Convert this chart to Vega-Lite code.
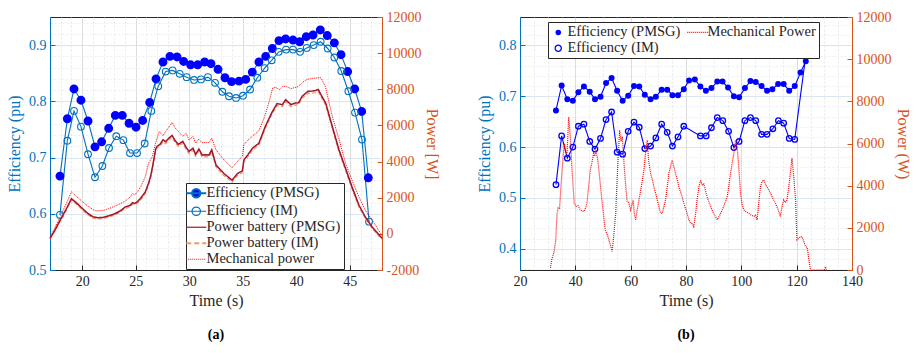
{
  "$schema": "https://vega.github.io/schema/vega-lite/v6.json",
  "padding": {"left": 6, "top": 9, "right": 5, "bottom": 5},
  "background": "white",
  "config": {
    "view": {"stroke": "#262626", "strokeWidth": 1},
    "font": "Liberation Serif",
    "axis": {
      "labelFont": "Liberation Serif", "labelFontSize": 14, "titleFont": "Liberation Serif", "titleFontSize": 16,
      "titleFontWeight": "normal", "tickSize": -5, "labelPadding": 9, "labelOverlap": false, "labelFlush": false,
      "gridWidth": 0.8, "domainWidth": 1
    },
    "title": {"font": "Liberation Serif", "fontSize": 14, "fontWeight": "bold", "color": "#000000"}
  },
  "datasets": {
    "effA": [
      {"s": "Efficiency (PMSG)", "t": 17.93, "v": 0.667}, {"s": "Efficiency (PMSG)", "t": 18.62, "v": 0.769}, {"s": "Efficiency (PMSG)", "t": 19.24, "v": 0.822}, {"s": "Efficiency (PMSG)", "t": 19.89, "v": 0.802},
      {"s": "Efficiency (PMSG)", "t": 20.55, "v": 0.765}, {"s": "Efficiency (PMSG)", "t": 21.2, "v": 0.719}, {"s": "Efficiency (PMSG)", "t": 21.82, "v": 0.728}, {"s": "Efficiency (PMSG)", "t": 22.48, "v": 0.752},
      {"s": "Efficiency (PMSG)", "t": 23.1, "v": 0.775}, {"s": "Efficiency (PMSG)", "t": 23.75, "v": 0.775}, {"s": "Efficiency (PMSG)", "t": 24.38, "v": 0.761}, {"s": "Efficiency (PMSG)", "t": 25.03, "v": 0.754},
      {"s": "Efficiency (PMSG)", "t": 25.65, "v": 0.766}, {"s": "Efficiency (PMSG)", "t": 26.31, "v": 0.798}, {"s": "Efficiency (PMSG)", "t": 26.9, "v": 0.84}, {"s": "Efficiency (PMSG)", "t": 27.55, "v": 0.87},
      {"s": "Efficiency (PMSG)", "t": 28.2, "v": 0.88}, {"s": "Efficiency (PMSG)", "t": 28.86, "v": 0.879}, {"s": "Efficiency (PMSG)", "t": 29.48, "v": 0.871}, {"s": "Efficiency (PMSG)", "t": 30.13, "v": 0.865},
      {"s": "Efficiency (PMSG)", "t": 30.79, "v": 0.865}, {"s": "Efficiency (PMSG)", "t": 31.44, "v": 0.87}, {"s": "Efficiency (PMSG)", "t": 32.03, "v": 0.867}, {"s": "Efficiency (PMSG)", "t": 32.69, "v": 0.857},
      {"s": "Efficiency (PMSG)", "t": 33.34, "v": 0.842}, {"s": "Efficiency (PMSG)", "t": 33.96, "v": 0.835}, {"s": "Efficiency (PMSG)", "t": 34.65, "v": 0.836}, {"s": "Efficiency (PMSG)", "t": 35.27, "v": 0.839},
      {"s": "Efficiency (PMSG)", "t": 35.89, "v": 0.852}, {"s": "Efficiency (PMSG)", "t": 36.51, "v": 0.87}, {"s": "Efficiency (PMSG)", "t": 37.14, "v": 0.88}, {"s": "Efficiency (PMSG)", "t": 37.76, "v": 0.894},
      {"s": "Efficiency (PMSG)", "t": 38.38, "v": 0.908}, {"s": "Efficiency (PMSG)", "t": 39.0, "v": 0.911}, {"s": "Efficiency (PMSG)", "t": 39.69, "v": 0.909}, {"s": "Efficiency (PMSG)", "t": 40.31, "v": 0.906},
      {"s": "Efficiency (PMSG)", "t": 40.93, "v": 0.915}, {"s": "Efficiency (PMSG)", "t": 41.56, "v": 0.918}, {"s": "Efficiency (PMSG)", "t": 42.24, "v": 0.927}, {"s": "Efficiency (PMSG)", "t": 42.89, "v": 0.917},
      {"s": "Efficiency (PMSG)", "t": 43.55, "v": 0.904}, {"s": "Efficiency (PMSG)", "t": 44.17, "v": 0.883}, {"s": "Efficiency (PMSG)", "t": 44.79, "v": 0.853}, {"s": "Efficiency (PMSG)", "t": 45.45, "v": 0.822},
      {"s": "Efficiency (PMSG)", "t": 46.1, "v": 0.782}, {"s": "Efficiency (PMSG)", "t": 46.72, "v": 0.664},
      {"s": "Efficiency (IM)", "t": 17.93, "v": 0.598}, {"s": "Efficiency (IM)", "t": 18.62, "v": 0.73}, {"s": "Efficiency (IM)", "t": 19.24, "v": 0.783}, {"s": "Efficiency (IM)", "t": 19.89, "v": 0.755},
      {"s": "Efficiency (IM)", "t": 20.55, "v": 0.706}, {"s": "Efficiency (IM)", "t": 21.2, "v": 0.665}, {"s": "Efficiency (IM)", "t": 21.89, "v": 0.685}, {"s": "Efficiency (IM)", "t": 22.51, "v": 0.717},
      {"s": "Efficiency (IM)", "t": 23.19, "v": 0.738}, {"s": "Efficiency (IM)", "t": 23.85, "v": 0.731}, {"s": "Efficiency (IM)", "t": 24.47, "v": 0.708}, {"s": "Efficiency (IM)", "t": 25.13, "v": 0.708},
      {"s": "Efficiency (IM)", "t": 25.84, "v": 0.725}, {"s": "Efficiency (IM)", "t": 26.46, "v": 0.783}, {"s": "Efficiency (IM)", "t": 27.11, "v": 0.827}, {"s": "Efficiency (IM)", "t": 27.8, "v": 0.853},
      {"s": "Efficiency (IM)", "t": 28.45, "v": 0.855}, {"s": "Efficiency (IM)", "t": 29.11, "v": 0.849}, {"s": "Efficiency (IM)", "t": 29.76, "v": 0.843}, {"s": "Efficiency (IM)", "t": 30.45, "v": 0.838},
      {"s": "Efficiency (IM)", "t": 31.1, "v": 0.839}, {"s": "Efficiency (IM)", "t": 31.75, "v": 0.843}, {"s": "Efficiency (IM)", "t": 32.41, "v": 0.833}, {"s": "Efficiency (IM)", "t": 33.09, "v": 0.817},
      {"s": "Efficiency (IM)", "t": 33.71, "v": 0.809}, {"s": "Efficiency (IM)", "t": 34.37, "v": 0.806}, {"s": "Efficiency (IM)", "t": 35.02, "v": 0.81}, {"s": "Efficiency (IM)", "t": 35.68, "v": 0.821},
      {"s": "Efficiency (IM)", "t": 36.36, "v": 0.842}, {"s": "Efficiency (IM)", "t": 37.04, "v": 0.859}, {"s": "Efficiency (IM)", "t": 37.7, "v": 0.873}, {"s": "Efficiency (IM)", "t": 38.35, "v": 0.888},
      {"s": "Efficiency (IM)", "t": 39.04, "v": 0.892}, {"s": "Efficiency (IM)", "t": 39.69, "v": 0.892}, {"s": "Efficiency (IM)", "t": 40.35, "v": 0.888}, {"s": "Efficiency (IM)", "t": 40.97, "v": 0.895},
      {"s": "Efficiency (IM)", "t": 41.62, "v": 0.9}, {"s": "Efficiency (IM)", "t": 42.27, "v": 0.906}, {"s": "Efficiency (IM)", "t": 42.93, "v": 0.894}, {"s": "Efficiency (IM)", "t": 43.55, "v": 0.878},
      {"s": "Efficiency (IM)", "t": 44.2, "v": 0.854}, {"s": "Efficiency (IM)", "t": 44.86, "v": 0.818}, {"s": "Efficiency (IM)", "t": 45.48, "v": 0.78}, {"s": "Efficiency (IM)", "t": 46.13, "v": 0.732},
      {"s": "Efficiency (IM)", "t": 46.79, "v": 0.586}
    ],
    "powA": [
      {"s": "Power battery (IM)", "t": 17.0, "v": -280}, {"s": "Power battery (IM)", "t": 17.5, "v": 200}, {"s": "Power battery (IM)", "t": 18.0, "v": 760}, {"s": "Power battery (IM)", "t": 18.5, "v": 1280},
      {"s": "Power battery (IM)", "t": 19.0, "v": 1870}, {"s": "Power battery (IM)", "t": 19.5, "v": 1620}, {"s": "Power battery (IM)", "t": 20.0, "v": 1340}, {"s": "Power battery (IM)", "t": 20.5, "v": 1070},
      {"s": "Power battery (IM)", "t": 21.0, "v": 870}, {"s": "Power battery (IM)", "t": 21.5, "v": 820}, {"s": "Power battery (IM)", "t": 22.0, "v": 850}, {"s": "Power battery (IM)", "t": 22.5, "v": 930},
      {"s": "Power battery (IM)", "t": 23.0, "v": 1030}, {"s": "Power battery (IM)", "t": 23.5, "v": 1180}, {"s": "Power battery (IM)", "t": 24.0, "v": 1400}, {"s": "Power battery (IM)", "t": 24.5, "v": 1500},
      {"s": "Power battery (IM)", "t": 24.7, "v": 1650}, {"s": "Power battery (IM)", "t": 24.9, "v": 1600}, {"s": "Power battery (IM)", "t": 25.2, "v": 1720}, {"s": "Power battery (IM)", "t": 25.5, "v": 1910},
      {"s": "Power battery (IM)", "t": 25.9, "v": 2230}, {"s": "Power battery (IM)", "t": 26.2, "v": 2700}, {"s": "Power battery (IM)", "t": 26.4, "v": 3100}, {"s": "Power battery (IM)", "t": 26.6, "v": 3700},
      {"s": "Power battery (IM)", "t": 26.87, "v": 4600}, {"s": "Power battery (IM)", "t": 27.0, "v": 4750}, {"s": "Power battery (IM)", "t": 27.27, "v": 4840}, {"s": "Power battery (IM)", "t": 27.55, "v": 5090},
      {"s": "Power battery (IM)", "t": 27.8, "v": 4990}, {"s": "Power battery (IM)", "t": 28.1, "v": 5190}, {"s": "Power battery (IM)", "t": 28.4, "v": 5340}, {"s": "Power battery (IM)", "t": 28.7, "v": 5040},
      {"s": "Power battery (IM)", "t": 28.98, "v": 4840}, {"s": "Power battery (IM)", "t": 29.4, "v": 5010}, {"s": "Power battery (IM)", "t": 29.7, "v": 4690}, {"s": "Power battery (IM)", "t": 29.98, "v": 4450},
      {"s": "Power battery (IM)", "t": 30.35, "v": 4630}, {"s": "Power battery (IM)", "t": 30.6, "v": 4290}, {"s": "Power battery (IM)", "t": 30.9, "v": 4590}, {"s": "Power battery (IM)", "t": 31.2, "v": 4260},
      {"s": "Power battery (IM)", "t": 31.5, "v": 4270}, {"s": "Power battery (IM)", "t": 31.85, "v": 4260}, {"s": "Power battery (IM)", "t": 32.1, "v": 4540}, {"s": "Power battery (IM)", "t": 32.5, "v": 3700},
      {"s": "Power battery (IM)", "t": 33.24, "v": 3230}, {"s": "Power battery (IM)", "t": 34.0, "v": 2860}, {"s": "Power battery (IM)", "t": 34.5, "v": 3230}, {"s": "Power battery (IM)", "t": 34.96, "v": 3380},
      {"s": "Power battery (IM)", "t": 35.1, "v": 3980}, {"s": "Power battery (IM)", "t": 35.5, "v": 4290}, {"s": "Power battery (IM)", "t": 35.9, "v": 4630}, {"s": "Power battery (IM)", "t": 36.5, "v": 4900},
      {"s": "Power battery (IM)", "t": 37.1, "v": 5830}, {"s": "Power battery (IM)", "t": 37.7, "v": 6580}, {"s": "Power battery (IM)", "t": 38.2, "v": 7100}, {"s": "Power battery (IM)", "t": 38.7, "v": 7040},
      {"s": "Power battery (IM)", "t": 39.0, "v": 7320}, {"s": "Power battery (IM)", "t": 39.5, "v": 7040}, {"s": "Power battery (IM)", "t": 39.9, "v": 7130}, {"s": "Power battery (IM)", "t": 40.2, "v": 7140},
      {"s": "Power battery (IM)", "t": 40.55, "v": 7510}, {"s": "Power battery (IM)", "t": 41.1, "v": 7780}, {"s": "Power battery (IM)", "t": 41.5, "v": 7790}, {"s": "Power battery (IM)", "t": 41.8, "v": 7820},
      {"s": "Power battery (IM)", "t": 42.05, "v": 7880}, {"s": "Power battery (IM)", "t": 42.3, "v": 7590}, {"s": "Power battery (IM)", "t": 42.74, "v": 7130}, {"s": "Power battery (IM)", "t": 43.36, "v": 5830},
      {"s": "Power battery (IM)", "t": 43.98, "v": 4540}, {"s": "Power battery (IM)", "t": 44.6, "v": 3510}, {"s": "Power battery (IM)", "t": 45.2, "v": 2490}, {"s": "Power battery (IM)", "t": 45.85, "v": 1480},
      {"s": "Power battery (IM)", "t": 46.45, "v": 840}, {"s": "Power battery (IM)", "t": 47.1, "v": 290}, {"s": "Power battery (IM)", "t": 47.9, "v": -250}, {"s": "Power battery (IM)", "t": 48.0, "v": -300},
      {"s": "Power battery (PMSG)", "t": 17.0, "v": -250}, {"s": "Power battery (PMSG)", "t": 17.5, "v": 250}, {"s": "Power battery (PMSG)", "t": 18.0, "v": 820}, {"s": "Power battery (PMSG)", "t": 18.5, "v": 1350},
      {"s": "Power battery (PMSG)", "t": 19.0, "v": 1950}, {"s": "Power battery (PMSG)", "t": 19.5, "v": 1700}, {"s": "Power battery (PMSG)", "t": 20.0, "v": 1420}, {"s": "Power battery (PMSG)", "t": 20.5, "v": 1150},
      {"s": "Power battery (PMSG)", "t": 21.0, "v": 950}, {"s": "Power battery (PMSG)", "t": 21.5, "v": 890}, {"s": "Power battery (PMSG)", "t": 22.0, "v": 920}, {"s": "Power battery (PMSG)", "t": 22.5, "v": 1000},
      {"s": "Power battery (PMSG)", "t": 23.0, "v": 1100}, {"s": "Power battery (PMSG)", "t": 23.5, "v": 1250}, {"s": "Power battery (PMSG)", "t": 24.0, "v": 1480}, {"s": "Power battery (PMSG)", "t": 24.5, "v": 1580},
      {"s": "Power battery (PMSG)", "t": 24.7, "v": 1730}, {"s": "Power battery (PMSG)", "t": 24.9, "v": 1680}, {"s": "Power battery (PMSG)", "t": 25.2, "v": 1800}, {"s": "Power battery (PMSG)", "t": 25.5, "v": 2000},
      {"s": "Power battery (PMSG)", "t": 25.9, "v": 2320}, {"s": "Power battery (PMSG)", "t": 26.2, "v": 2800}, {"s": "Power battery (PMSG)", "t": 26.4, "v": 3200}, {"s": "Power battery (PMSG)", "t": 26.6, "v": 3800},
      {"s": "Power battery (PMSG)", "t": 26.87, "v": 4700}, {"s": "Power battery (PMSG)", "t": 27.0, "v": 4850}, {"s": "Power battery (PMSG)", "t": 27.27, "v": 4950}, {"s": "Power battery (PMSG)", "t": 27.55, "v": 5200},
      {"s": "Power battery (PMSG)", "t": 27.8, "v": 5100}, {"s": "Power battery (PMSG)", "t": 28.1, "v": 5300}, {"s": "Power battery (PMSG)", "t": 28.4, "v": 5450}, {"s": "Power battery (PMSG)", "t": 28.7, "v": 5150},
      {"s": "Power battery (PMSG)", "t": 28.98, "v": 4950}, {"s": "Power battery (PMSG)", "t": 29.4, "v": 5120}, {"s": "Power battery (PMSG)", "t": 29.7, "v": 4800}, {"s": "Power battery (PMSG)", "t": 29.98, "v": 4560},
      {"s": "Power battery (PMSG)", "t": 30.35, "v": 4740}, {"s": "Power battery (PMSG)", "t": 30.6, "v": 4400}, {"s": "Power battery (PMSG)", "t": 30.9, "v": 4700}, {"s": "Power battery (PMSG)", "t": 31.2, "v": 4370},
      {"s": "Power battery (PMSG)", "t": 31.5, "v": 4380}, {"s": "Power battery (PMSG)", "t": 31.85, "v": 4370}, {"s": "Power battery (PMSG)", "t": 32.1, "v": 4650}, {"s": "Power battery (PMSG)", "t": 32.5, "v": 3810},
      {"s": "Power battery (PMSG)", "t": 33.24, "v": 3340}, {"s": "Power battery (PMSG)", "t": 34.0, "v": 2970}, {"s": "Power battery (PMSG)", "t": 34.5, "v": 3340}, {"s": "Power battery (PMSG)", "t": 34.96, "v": 3490},
      {"s": "Power battery (PMSG)", "t": 35.1, "v": 4090}, {"s": "Power battery (PMSG)", "t": 35.5, "v": 4400}, {"s": "Power battery (PMSG)", "t": 35.9, "v": 4740}, {"s": "Power battery (PMSG)", "t": 36.5, "v": 5010},
      {"s": "Power battery (PMSG)", "t": 37.1, "v": 5940}, {"s": "Power battery (PMSG)", "t": 37.7, "v": 6690}, {"s": "Power battery (PMSG)", "t": 38.2, "v": 7210}, {"s": "Power battery (PMSG)", "t": 38.7, "v": 7150},
      {"s": "Power battery (PMSG)", "t": 39.0, "v": 7430}, {"s": "Power battery (PMSG)", "t": 39.5, "v": 7150}, {"s": "Power battery (PMSG)", "t": 39.9, "v": 7240}, {"s": "Power battery (PMSG)", "t": 40.2, "v": 7250},
      {"s": "Power battery (PMSG)", "t": 40.55, "v": 7620}, {"s": "Power battery (PMSG)", "t": 41.1, "v": 7890}, {"s": "Power battery (PMSG)", "t": 41.5, "v": 7900}, {"s": "Power battery (PMSG)", "t": 41.8, "v": 7930},
      {"s": "Power battery (PMSG)", "t": 42.05, "v": 7990}, {"s": "Power battery (PMSG)", "t": 42.3, "v": 7700}, {"s": "Power battery (PMSG)", "t": 42.74, "v": 7240}, {"s": "Power battery (PMSG)", "t": 43.36, "v": 5940},
      {"s": "Power battery (PMSG)", "t": 43.98, "v": 4650}, {"s": "Power battery (PMSG)", "t": 44.6, "v": 3620}, {"s": "Power battery (PMSG)", "t": 45.2, "v": 2600}, {"s": "Power battery (PMSG)", "t": 45.85, "v": 1580},
      {"s": "Power battery (PMSG)", "t": 46.45, "v": 930}, {"s": "Power battery (PMSG)", "t": 47.1, "v": 370}, {"s": "Power battery (PMSG)", "t": 47.9, "v": -180}, {"s": "Power battery (PMSG)", "t": 48.0, "v": -250},
      {"s": "Mechanical power", "t": 17.0, "v": -200}, {"s": "Mechanical power", "t": 17.5, "v": 400}, {"s": "Mechanical power", "t": 18.0, "v": 1000}, {"s": "Mechanical power", "t": 18.5, "v": 1650},
      {"s": "Mechanical power", "t": 19.0, "v": 2320}, {"s": "Mechanical power", "t": 19.5, "v": 2050}, {"s": "Mechanical power", "t": 20.0, "v": 1800}, {"s": "Mechanical power", "t": 20.5, "v": 1550},
      {"s": "Mechanical power", "t": 21.0, "v": 1350}, {"s": "Mechanical power", "t": 21.3, "v": 1270}, {"s": "Mechanical power", "t": 22.0, "v": 1300}, {"s": "Mechanical power", "t": 22.5, "v": 1400},
      {"s": "Mechanical power", "t": 23.0, "v": 1520}, {"s": "Mechanical power", "t": 23.5, "v": 1650}, {"s": "Mechanical power", "t": 24.0, "v": 1800}, {"s": "Mechanical power", "t": 24.5, "v": 2050},
      {"s": "Mechanical power", "t": 24.7, "v": 2250}, {"s": "Mechanical power", "t": 24.9, "v": 2150}, {"s": "Mechanical power", "t": 25.2, "v": 2350}, {"s": "Mechanical power", "t": 25.5, "v": 2650},
      {"s": "Mechanical power", "t": 25.9, "v": 3160}, {"s": "Mechanical power", "t": 26.2, "v": 3900}, {"s": "Mechanical power", "t": 26.55, "v": 4270}, {"s": "Mechanical power", "t": 26.85, "v": 5010},
      {"s": "Mechanical power", "t": 27.2, "v": 5670}, {"s": "Mechanical power", "t": 27.55, "v": 5430}, {"s": "Mechanical power", "t": 27.8, "v": 5670}, {"s": "Mechanical power", "t": 28.1, "v": 5900},
      {"s": "Mechanical power", "t": 28.4, "v": 6170}, {"s": "Mechanical power", "t": 28.7, "v": 5850}, {"s": "Mechanical power", "t": 28.98, "v": 5670}, {"s": "Mechanical power", "t": 29.4, "v": 5390},
      {"s": "Mechanical power", "t": 29.7, "v": 5570}, {"s": "Mechanical power", "t": 29.98, "v": 5200}, {"s": "Mechanical power", "t": 30.35, "v": 5390}, {"s": "Mechanical power", "t": 30.6, "v": 5010},
      {"s": "Mechanical power", "t": 30.9, "v": 5250}, {"s": "Mechanical power", "t": 31.2, "v": 5050}, {"s": "Mechanical power", "t": 31.85, "v": 5050}, {"s": "Mechanical power", "t": 32.1, "v": 5290},
      {"s": "Mechanical power", "t": 32.5, "v": 4650}, {"s": "Mechanical power", "t": 33.24, "v": 4100}, {"s": "Mechanical power", "t": 34.0, "v": 3660}, {"s": "Mechanical power", "t": 34.5, "v": 4000},
      {"s": "Mechanical power", "t": 34.96, "v": 4300}, {"s": "Mechanical power", "t": 35.1, "v": 4930}, {"s": "Mechanical power", "t": 35.5, "v": 5200}, {"s": "Mechanical power", "t": 35.9, "v": 5400},
      {"s": "Mechanical power", "t": 36.5, "v": 5700}, {"s": "Mechanical power", "t": 36.8, "v": 6130}, {"s": "Mechanical power", "t": 37.1, "v": 6600}, {"s": "Mechanical power", "t": 37.5, "v": 7400},
      {"s": "Mechanical power", "t": 37.8, "v": 8080}, {"s": "Mechanical power", "t": 38.1, "v": 8100}, {"s": "Mechanical power", "t": 38.4, "v": 7980}, {"s": "Mechanical power", "t": 38.7, "v": 8150},
      {"s": "Mechanical power", "t": 39.0, "v": 8170}, {"s": "Mechanical power", "t": 39.5, "v": 8040}, {"s": "Mechanical power", "t": 39.9, "v": 8100}, {"s": "Mechanical power", "t": 40.2, "v": 8150},
      {"s": "Mechanical power", "t": 40.5, "v": 8350}, {"s": "Mechanical power", "t": 41.0, "v": 8550}, {"s": "Mechanical power", "t": 41.5, "v": 8600}, {"s": "Mechanical power", "t": 42.0, "v": 8640},
      {"s": "Mechanical power", "t": 42.3, "v": 8630}, {"s": "Mechanical power", "t": 42.7, "v": 8170}, {"s": "Mechanical power", "t": 43.36, "v": 6500}, {"s": "Mechanical power", "t": 44.0, "v": 5200},
      {"s": "Mechanical power", "t": 44.6, "v": 3900}, {"s": "Mechanical power", "t": 45.2, "v": 2980}, {"s": "Mechanical power", "t": 45.85, "v": 2040}, {"s": "Mechanical power", "t": 46.45, "v": 1300},
      {"s": "Mechanical power", "t": 47.1, "v": 750}, {"s": "Mechanical power", "t": 47.9, "v": 0}, {"s": "Mechanical power", "t": 48.0, "v": -100}
    ],
    "effB": [
      {"s": "Efficiency (PMSG)", "t": 33.0, "v": 0.672}, {"s": "Efficiency (PMSG)", "t": 35.05, "v": 0.721}, {"s": "Efficiency (PMSG)", "t": 37.1, "v": 0.694}, {"s": "Efficiency (PMSG)", "t": 39.1, "v": 0.691},
      {"s": "Efficiency (PMSG)", "t": 41.1, "v": 0.708}, {"s": "Efficiency (PMSG)", "t": 43.1, "v": 0.719}, {"s": "Efficiency (PMSG)", "t": 45.2, "v": 0.709}, {"s": "Efficiency (PMSG)", "t": 47.1, "v": 0.694},
      {"s": "Efficiency (PMSG)", "t": 49.1, "v": 0.699}, {"s": "Efficiency (PMSG)", "t": 51.1, "v": 0.726}, {"s": "Efficiency (PMSG)", "t": 53.1, "v": 0.736}, {"s": "Efficiency (PMSG)", "t": 55.1, "v": 0.711},
      {"s": "Efficiency (PMSG)", "t": 57.1, "v": 0.691}, {"s": "Efficiency (PMSG)", "t": 59.1, "v": 0.701}, {"s": "Efficiency (PMSG)", "t": 61.2, "v": 0.72}, {"s": "Efficiency (PMSG)", "t": 63.1, "v": 0.719},
      {"s": "Efficiency (PMSG)", "t": 65.1, "v": 0.703}, {"s": "Efficiency (PMSG)", "t": 67.2, "v": 0.694}, {"s": "Efficiency (PMSG)", "t": 69.1, "v": 0.699}, {"s": "Efficiency (PMSG)", "t": 71.2, "v": 0.713},
      {"s": "Efficiency (PMSG)", "t": 73.2, "v": 0.713}, {"s": "Efficiency (PMSG)", "t": 75.1, "v": 0.702}, {"s": "Efficiency (PMSG)", "t": 77.1, "v": 0.702}, {"s": "Efficiency (PMSG)", "t": 79.2, "v": 0.714},
      {"s": "Efficiency (PMSG)", "t": 81.1, "v": 0.731}, {"s": "Efficiency (PMSG)", "t": 83.2, "v": 0.733}, {"s": "Efficiency (PMSG)", "t": 85.2, "v": 0.719}, {"s": "Efficiency (PMSG)", "t": 87.2, "v": 0.711},
      {"s": "Efficiency (PMSG)", "t": 89.2, "v": 0.716}, {"s": "Efficiency (PMSG)", "t": 91.3, "v": 0.729}, {"s": "Efficiency (PMSG)", "t": 93.2, "v": 0.729}, {"s": "Efficiency (PMSG)", "t": 95.2, "v": 0.717},
      {"s": "Efficiency (PMSG)", "t": 97.3, "v": 0.7}, {"s": "Efficiency (PMSG)", "t": 99.2, "v": 0.698}, {"s": "Efficiency (PMSG)", "t": 101.3, "v": 0.716}, {"s": "Efficiency (PMSG)", "t": 103.3, "v": 0.73},
      {"s": "Efficiency (PMSG)", "t": 105.2, "v": 0.728}, {"s": "Efficiency (PMSG)", "t": 107.3, "v": 0.72}, {"s": "Efficiency (PMSG)", "t": 109.3, "v": 0.711}, {"s": "Efficiency (PMSG)", "t": 111.2, "v": 0.714},
      {"s": "Efficiency (PMSG)", "t": 113.3, "v": 0.724}, {"s": "Efficiency (PMSG)", "t": 115.3, "v": 0.724}, {"s": "Efficiency (PMSG)", "t": 117.3, "v": 0.711}, {"s": "Efficiency (PMSG)", "t": 119.3, "v": 0.72},
      {"s": "Efficiency (PMSG)", "t": 121.4, "v": 0.747}, {"s": "Efficiency (PMSG)", "t": 123.3, "v": 0.769},
      {"s": "Efficiency (IM)", "t": 33.0, "v": 0.526}, {"s": "Efficiency (IM)", "t": 35.05, "v": 0.622}, {"s": "Efficiency (IM)", "t": 37.1, "v": 0.578}, {"s": "Efficiency (IM)", "t": 39.1, "v": 0.6},
      {"s": "Efficiency (IM)", "t": 41.1, "v": 0.641}, {"s": "Efficiency (IM)", "t": 43.1, "v": 0.645}, {"s": "Efficiency (IM)", "t": 45.2, "v": 0.611}, {"s": "Efficiency (IM)", "t": 47.1, "v": 0.596},
      {"s": "Efficiency (IM)", "t": 49.1, "v": 0.617}, {"s": "Efficiency (IM)", "t": 51.1, "v": 0.654}, {"s": "Efficiency (IM)", "t": 53.1, "v": 0.669}, {"s": "Efficiency (IM)", "t": 55.1, "v": 0.59},
      {"s": "Efficiency (IM)", "t": 57.1, "v": 0.586}, {"s": "Efficiency (IM)", "t": 59.1, "v": 0.631}, {"s": "Efficiency (IM)", "t": 61.2, "v": 0.649}, {"s": "Efficiency (IM)", "t": 63.1, "v": 0.639},
      {"s": "Efficiency (IM)", "t": 65.1, "v": 0.597}, {"s": "Efficiency (IM)", "t": 67.2, "v": 0.602}, {"s": "Efficiency (IM)", "t": 69.1, "v": 0.618}, {"s": "Efficiency (IM)", "t": 71.2, "v": 0.645},
      {"s": "Efficiency (IM)", "t": 73.2, "v": 0.629}, {"s": "Efficiency (IM)", "t": 75.1, "v": 0.602}, {"s": "Efficiency (IM)", "t": 77.1, "v": 0.62}, {"s": "Efficiency (IM)", "t": 79.2, "v": 0.641},
      {"s": "Efficiency (IM)", "t": 85.2, "v": 0.622}, {"s": "Efficiency (IM)", "t": 87.3, "v": 0.622}, {"s": "Efficiency (IM)", "t": 89.2, "v": 0.638}, {"s": "Efficiency (IM)", "t": 91.3, "v": 0.658},
      {"s": "Efficiency (IM)", "t": 93.3, "v": 0.652}, {"s": "Efficiency (IM)", "t": 95.4, "v": 0.631}, {"s": "Efficiency (IM)", "t": 97.3, "v": 0.599}, {"s": "Efficiency (IM)", "t": 99.2, "v": 0.611},
      {"s": "Efficiency (IM)", "t": 101.3, "v": 0.652}, {"s": "Efficiency (IM)", "t": 103.3, "v": 0.658}, {"s": "Efficiency (IM)", "t": 105.2, "v": 0.652}, {"s": "Efficiency (IM)", "t": 107.3, "v": 0.625},
      {"s": "Efficiency (IM)", "t": 109.3, "v": 0.625}, {"s": "Efficiency (IM)", "t": 111.4, "v": 0.636}, {"s": "Efficiency (IM)", "t": 113.4, "v": 0.652}, {"s": "Efficiency (IM)", "t": 115.3, "v": 0.647},
      {"s": "Efficiency (IM)", "t": 117.3, "v": 0.617}, {"s": "Efficiency (IM)", "t": 119.3, "v": 0.615}, {"s": "Efficiency (IM)", "t": 123.4, "v": 0.785}
    ],
    "powB": [
      {"s": "Mechanical Power", "t": 31.0, "v": 100}, {"s": "Mechanical Power", "t": 31.5, "v": 500}, {"s": "Mechanical Power", "t": 32.2, "v": 800}, {"s": "Mechanical Power", "t": 32.9, "v": 1370},
      {"s": "Mechanical Power", "t": 33.4, "v": 2700}, {"s": "Mechanical Power", "t": 33.8, "v": 2950}, {"s": "Mechanical Power", "t": 34.3, "v": 2930}, {"s": "Mechanical Power", "t": 35.2, "v": 4740},
      {"s": "Mechanical Power", "t": 36.0, "v": 6000}, {"s": "Mechanical Power", "t": 36.5, "v": 5600}, {"s": "Mechanical Power", "t": 37.0, "v": 5530}, {"s": "Mechanical Power", "t": 37.6, "v": 7260},
      {"s": "Mechanical Power", "t": 38.2, "v": 6300}, {"s": "Mechanical Power", "t": 38.8, "v": 4740}, {"s": "Mechanical Power", "t": 39.6, "v": 3170}, {"s": "Mechanical Power", "t": 40.3, "v": 3010},
      {"s": "Mechanical Power", "t": 41.0, "v": 3050}, {"s": "Mechanical Power", "t": 41.8, "v": 2850}, {"s": "Mechanical Power", "t": 42.5, "v": 2800}, {"s": "Mechanical Power", "t": 43.0, "v": 2770},
      {"s": "Mechanical Power", "t": 43.6, "v": 2900}, {"s": "Mechanical Power", "t": 44.2, "v": 3170}, {"s": "Mechanical Power", "t": 45.4, "v": 4740}, {"s": "Mechanical Power", "t": 46.0, "v": 5100},
      {"s": "Mechanical Power", "t": 46.6, "v": 5530}, {"s": "Mechanical Power", "t": 47.0, "v": 5400}, {"s": "Mechanical Power", "t": 47.4, "v": 5680}, {"s": "Mechanical Power", "t": 48.0, "v": 5300},
      {"s": "Mechanical Power", "t": 48.4, "v": 4900}, {"s": "Mechanical Power", "t": 49.0, "v": 4100}, {"s": "Mechanical Power", "t": 49.6, "v": 3320}, {"s": "Mechanical Power", "t": 50.2, "v": 2600},
      {"s": "Mechanical Power", "t": 50.8, "v": 1900}, {"s": "Mechanical Power", "t": 51.5, "v": 1700}, {"s": "Mechanical Power", "t": 52.2, "v": 1400}, {"s": "Mechanical Power", "t": 52.8, "v": 1120},
      {"s": "Mechanical Power", "t": 53.3, "v": 880}, {"s": "Mechanical Power", "t": 53.8, "v": 1500}, {"s": "Mechanical Power", "t": 54.6, "v": 2690}, {"s": "Mechanical Power", "t": 55.0, "v": 4000},
      {"s": "Mechanical Power", "t": 55.5, "v": 5370}, {"s": "Mechanical Power", "t": 56.0, "v": 6630}, {"s": "Mechanical Power", "t": 56.5, "v": 6100}, {"s": "Mechanical Power", "t": 57.0, "v": 6320},
      {"s": "Mechanical Power", "t": 57.6, "v": 5050}, {"s": "Mechanical Power", "t": 58.2, "v": 4000}, {"s": "Mechanical Power", "t": 58.7, "v": 3260}, {"s": "Mechanical Power", "t": 59.3, "v": 3200},
      {"s": "Mechanical Power", "t": 60.0, "v": 2850}, {"s": "Mechanical Power", "t": 60.5, "v": 3100}, {"s": "Mechanical Power", "t": 60.9, "v": 3320}, {"s": "Mechanical Power", "t": 61.3, "v": 2700},
      {"s": "Mechanical Power", "t": 61.8, "v": 2380}, {"s": "Mechanical Power", "t": 62.4, "v": 2900}, {"s": "Mechanical Power", "t": 63.0, "v": 3320}, {"s": "Mechanical Power", "t": 63.9, "v": 4000},
      {"s": "Mechanical Power", "t": 64.8, "v": 4740}, {"s": "Mechanical Power", "t": 65.4, "v": 5600}, {"s": "Mechanical Power", "t": 66.0, "v": 6160}, {"s": "Mechanical Power", "t": 66.5, "v": 5200},
      {"s": "Mechanical Power", "t": 67.2, "v": 4580}, {"s": "Mechanical Power", "t": 67.8, "v": 4300}, {"s": "Mechanical Power", "t": 68.4, "v": 3950}, {"s": "Mechanical Power", "t": 69.3, "v": 3500},
      {"s": "Mechanical Power", "t": 70.2, "v": 3010}, {"s": "Mechanical Power", "t": 70.8, "v": 2700}, {"s": "Mechanical Power", "t": 71.4, "v": 2690}, {"s": "Mechanical Power", "t": 72.0, "v": 3000},
      {"s": "Mechanical Power", "t": 72.6, "v": 3320}, {"s": "Mechanical Power", "t": 73.2, "v": 3900}, {"s": "Mechanical Power", "t": 73.8, "v": 4580}, {"s": "Mechanical Power", "t": 74.4, "v": 4900},
      {"s": "Mechanical Power", "t": 75.0, "v": 5210}, {"s": "Mechanical Power", "t": 75.6, "v": 4900}, {"s": "Mechanical Power", "t": 76.2, "v": 4580}, {"s": "Mechanical Power", "t": 76.8, "v": 4300},
      {"s": "Mechanical Power", "t": 77.4, "v": 3950}, {"s": "Mechanical Power", "t": 78.3, "v": 3600}, {"s": "Mechanical Power", "t": 79.2, "v": 3170}, {"s": "Mechanical Power", "t": 80.4, "v": 2690},
      {"s": "Mechanical Power", "t": 81.0, "v": 2400}, {"s": "Mechanical Power", "t": 81.6, "v": 2220}, {"s": "Mechanical Power", "t": 82.2, "v": 2200}, {"s": "Mechanical Power", "t": 82.8, "v": 2060},
      {"s": "Mechanical Power", "t": 83.4, "v": 2600}, {"s": "Mechanical Power", "t": 84.0, "v": 3320}, {"s": "Mechanical Power", "t": 84.6, "v": 3900}, {"s": "Mechanical Power", "t": 85.3, "v": 4270},
      {"s": "Mechanical Power", "t": 85.9, "v": 4000}, {"s": "Mechanical Power", "t": 86.4, "v": 4110}, {"s": "Mechanical Power", "t": 87.0, "v": 3800}, {"s": "Mechanical Power", "t": 87.6, "v": 3480},
      {"s": "Mechanical Power", "t": 88.5, "v": 3150}, {"s": "Mechanical Power", "t": 89.4, "v": 2850}, {"s": "Mechanical Power", "t": 90.3, "v": 2600}, {"s": "Mechanical Power", "t": 91.3, "v": 2380},
      {"s": "Mechanical Power", "t": 92.2, "v": 2600}, {"s": "Mechanical Power", "t": 93.1, "v": 2850}, {"s": "Mechanical Power", "t": 94.0, "v": 3150}, {"s": "Mechanical Power", "t": 94.9, "v": 3480},
      {"s": "Mechanical Power", "t": 95.5, "v": 4000}, {"s": "Mechanical Power", "t": 96.1, "v": 4580}, {"s": "Mechanical Power", "t": 96.7, "v": 5100}, {"s": "Mechanical Power", "t": 97.3, "v": 5530},
      {"s": "Mechanical Power", "t": 97.9, "v": 6160}, {"s": "Mechanical Power", "t": 98.5, "v": 5840}, {"s": "Mechanical Power", "t": 99.1, "v": 4800}, {"s": "Mechanical Power", "t": 99.7, "v": 3640},
      {"s": "Mechanical Power", "t": 100.3, "v": 3100}, {"s": "Mechanical Power", "t": 100.9, "v": 2850}, {"s": "Mechanical Power", "t": 101.8, "v": 2750}, {"s": "Mechanical Power", "t": 102.7, "v": 2690},
      {"s": "Mechanical Power", "t": 103.6, "v": 2600}, {"s": "Mechanical Power", "t": 104.5, "v": 2540}, {"s": "Mechanical Power", "t": 105.1, "v": 2600}, {"s": "Mechanical Power", "t": 105.7, "v": 2380},
      {"s": "Mechanical Power", "t": 106.3, "v": 3200}, {"s": "Mechanical Power", "t": 106.9, "v": 3950}, {"s": "Mechanical Power", "t": 107.5, "v": 4200}, {"s": "Mechanical Power", "t": 108.1, "v": 4270},
      {"s": "Mechanical Power", "t": 109.0, "v": 4000}, {"s": "Mechanical Power", "t": 109.9, "v": 3800}, {"s": "Mechanical Power", "t": 110.5, "v": 3640}, {"s": "Mechanical Power", "t": 111.4, "v": 3400},
      {"s": "Mechanical Power", "t": 112.3, "v": 3170}, {"s": "Mechanical Power", "t": 113.2, "v": 2900}, {"s": "Mechanical Power", "t": 114.1, "v": 2540}, {"s": "Mechanical Power", "t": 114.7, "v": 3000},
      {"s": "Mechanical Power", "t": 115.3, "v": 3320}, {"s": "Mechanical Power", "t": 115.9, "v": 3200}, {"s": "Mechanical Power", "t": 116.5, "v": 3320}, {"s": "Mechanical Power", "t": 117.4, "v": 4200},
      {"s": "Mechanical Power", "t": 118.3, "v": 5300}, {"s": "Mechanical Power", "t": 118.9, "v": 4500}, {"s": "Mechanical Power", "t": 119.6, "v": 3320}, {"s": "Mechanical Power", "t": 120.1, "v": 1430},
      {"s": "Mechanical Power", "t": 120.8, "v": 1500}, {"s": "Mechanical Power", "t": 121.4, "v": 1590}, {"s": "Mechanical Power", "t": 122.0, "v": 1560}, {"s": "Mechanical Power", "t": 122.6, "v": 1350},
      {"s": "Mechanical Power", "t": 123.2, "v": 1120}, {"s": "Mechanical Power", "t": 123.8, "v": 1060}, {"s": "Mechanical Power", "t": 124.4, "v": 500}, {"s": "Mechanical Power", "t": 125.0, "v": 0},
      {"s": "Mechanical Power", "t": 130.0, "v": 0}, {"s": "Mechanical Power", "t": 130.4, "v": 150}, {"s": "Mechanical Power", "t": 130.8, "v": 0}, {"s": "Mechanical Power", "t": 131.2, "v": 0}
    ]
  },
  "bounds": "flush",
  "spacing": 138,
  "resolve": {"scale": {"color": "independent"}, "legend": {"color": "independent"}},
  "hconcat": [
    {
      "width": 332, "height": 253,
      "title": {"text": "(a)", "orient": "bottom", "anchor": "middle", "frame": "group", "offset": 20},
      "encoding": {
        "x": {"field": "t", "type": "quantitative", "scale": {"domain": [17, 48], "nice": false, "zero": false},
          "axis": {"title": "Time (s)", "titleColor": "#262626", "titlePadding": 4,
            "values": [17,18,19,20,21,22,23,24,25,26,27,28,29,30,31,32,33,34,35,36,37,38,39,40,41,42,43,44,45,46,47,48],
            "labelExpr": "datum.value % 5 === 0 ? datum.label : ''", "format": "d", "labelColor": "#262626",
            "domainColor": "#262626", "tickColor": "#262626",
            "tickOpacity": {"condition": {"test": "datum.value % 5 === 0", "value": 1}, "value": 0},
            "grid": true,
            "gridColor": {"condition": {"test": "datum.value % 5 === 0", "value": "#d4d4d4"}, "value": "#e2e2e2"},
            "gridDash": {"condition": {"test": "datum.value % 5 === 0", "value": []}, "value": [2, 2]}}},
        "color": {"field": "s", "type": "nominal",
          "scale": {"domain": ["Efficiency (PMSG)", "Efficiency (IM)", "Power battery (PMSG)", "Power battery (IM)", "Mechanical power"],
            "range": ["#0072BD", "#0072BD", "#A2142F", "#EE9A6A", "#FF0000"]},
          "legend": {"title": null, "orient": "none", "legendX": 136, "legendY": 166, "fillColor": "white", "strokeColor": "#262626",
            "padding": 3, "labelFont": "Liberation Serif", "labelFontSize": 14.5, "labelColor": "#262626", "labelLimit": 300,
            "symbolSize": 400, "labelOffset": 3, "rowPadding": 1,
            "encode": {"symbols": {"update": {
              "shape": {"signal": "datum.value == 'Efficiency (PMSG)' || datum.value == 'Efficiency (IM)' ? 'M-1,0L1,0M-0.42,0A0.42,0.42,0,1,0,0.42,0A0.42,0.42,0,1,0,-0.42,0Z' : 'M-1,0L1,0'"},
              "fill": {"signal": "datum.value == 'Efficiency (PMSG)' ? '#0000FF' : 'transparent'"},
              "stroke": {"signal": "datum.value == 'Efficiency (PMSG)' ? '#4DA3E0' : datum.value == 'Efficiency (IM)' ? '#0072BD' : datum.value == 'Power battery (PMSG)' ? '#A2142F' : datum.value == 'Power battery (IM)' ? '#EE9A6A' : '#FF0000'"},
              "strokeDash": {"signal": "datum.value == 'Power battery (IM)' ? [5, 3] : datum.value == 'Mechanical power' ? [1, 1] : []"},
              "strokeWidth": {"signal": "datum.value == 'Efficiency (PMSG)' ? 2 : datum.value == 'Power battery (IM)' ? 2 : 1.2"},
              "opacity": {"value": 1}}}}}}
      },
      "layer": [
        {
          "data": {"name": "effA"},
          "encoding": {"y": {"field": "v", "type": "quantitative", "scale": {"domain": [0.5, 0.95], "nice": false, "zero": false},
            "axis": {"title": "Efficiency (pu)", "titleColor": "#0072BD", "titlePadding": 6,
              "values": [0.5,0.52,0.54,0.56,0.58,0.6,0.62,0.64,0.66,0.68,0.7,0.72,0.74,0.76,0.78,0.8,0.82,0.84,0.86,0.88,0.9,0.92,0.94],
              "labelExpr": "abs(datum.value*10 - round(datum.value*10)) < 0.001 ? format(datum.value, '.1f') : ''",
              "labelColor": "#0072BD", "domainColor": "#0072BD", "tickColor": "#0072BD",
              "tickOpacity": {"condition": {"test": "abs(datum.value*10 - round(datum.value*10)) < 0.001", "value": 1}, "value": 0},
              "grid": true,
              "gridColor": {"condition": {"test": "abs(datum.value*10 - round(datum.value*10)) < 0.001", "value": "#cfe0ee"}, "value": "#e3ebf2"},
              "gridDash": {"condition": {"test": "abs(datum.value*10 - round(datum.value*10)) < 0.001", "value": []}, "value": [2, 2]}}}},
          "layer": [
            {"mark": {"type": "line", "strokeWidth": 1.1}},
            {"transform": [{"filter": "datum.s === 'Efficiency (PMSG)'"}],
              "mark": {"type": "point", "filled": true, "size": 48, "opacity": 1},
              "encoding": {"fill": {"value": "#0000FF"}, "stroke": {"value": "#0000FF"}}},
            {"transform": [{"filter": "datum.s === 'Efficiency (IM)'"}],
              "mark": {"type": "point", "filled": false, "size": 45, "opacity": 1, "strokeWidth": 1.1},
              "encoding": {"fill": {"value": "transparent"}, "stroke": {"value": "#0072BD"}}}
          ]
        },
        {
          "data": {"name": "powA"},
          "encoding": {"y": {"field": "v", "type": "quantitative", "scale": {"domain": [-2000, 12000], "nice": false, "zero": false},
            "axis": {"orient": "right", "title": "Power [W]", "titleColor": "#D95319", "titlePadding": 2,
              "values": [-2000, 0, 2000, 4000, 6000, 8000, 10000, 12000], "labelExpr": "datum.value + ''",
              "labelColor": "#D95319", "domainColor": "#D95319", "tickColor": "#D95319", "grid": false}}},
          "layer": [
            {"transform": [{"filter": "datum.s === 'Power battery (IM)'"}], "mark": {"type": "line", "strokeWidth": 1.3, "strokeDash": [4, 2]}},
            {"transform": [{"filter": "datum.s === 'Power battery (PMSG)'"}], "mark": {"type": "line", "strokeWidth": 1.5}},
            {"transform": [{"filter": "datum.s === 'Mechanical power'"}], "mark": {"type": "line", "strokeWidth": 1, "strokeDash": [1, 1]}}
          ]
        }
      ],
      "resolve": {"scale": {"y": "independent"}}
    },
    {
      "width": 332, "height": 253,
      "title": {"text": "(b)", "orient": "bottom", "anchor": "middle", "frame": "group", "offset": 20},
      "encoding": {
        "x": {"field": "t", "type": "quantitative", "scale": {"domain": [20, 140], "nice": false, "zero": false},
          "axis": {"title": "Time (s)", "titleColor": "#262626", "titlePadding": 4,
            "values": [20,25,30,35,40,45,50,55,60,65,70,75,80,85,90,95,100,105,110,115,120,125,130,135,140],
            "labelExpr": "datum.value % 20 === 0 ? datum.label : ''", "format": "d", "labelColor": "#262626",
            "domainColor": "#262626", "tickColor": "#262626",
            "tickOpacity": {"condition": {"test": "datum.value % 20 === 0", "value": 1}, "value": 0},
            "grid": true,
            "gridColor": {"condition": {"test": "datum.value % 20 === 0", "value": "#d4d4d4"}, "value": "#e2e2e2"},
            "gridDash": {"condition": {"test": "datum.value % 20 === 0", "value": []}, "value": [2, 2]}}},
        "color": {"field": "s", "type": "nominal",
          "scale": {"domain": ["Efficiency (PMSG)", "Efficiency (IM)", "Mechanical Power"], "range": ["#0000FF", "#0000FF", "#FF0000"]},
          "legend": {"title": null, "orient": "none", "legendX": 28, "legendY": 5, "columns": 2, "columnPadding": 4,
            "fillColor": "white", "strokeColor": "#262626", "padding": 3,
            "labelFont": "Liberation Serif", "labelFontSize": 14.5, "labelColor": "#262626", "labelLimit": 300,
            "symbolSize": 484, "labelOffset": 2, "rowPadding": 1,
            "encode": {"symbols": {"update": {
              "shape": {"signal": "datum.value == 'Efficiency (PMSG)' ? 'M-0.2,0A0.2,0.2,0,1,0,0.2,0A0.2,0.2,0,1,0,-0.2,0Z' : datum.value == 'Efficiency (IM)' ? 'M-0.28,0A0.28,0.28,0,1,0,0.28,0A0.28,0.28,0,1,0,-0.28,0Z' : 'M-1,0L1,0'"},
              "fill": {"signal": "datum.value == 'Efficiency (PMSG)' ? '#0000FF' : 'transparent'"},
              "stroke": {"signal": "datum.value == 'Mechanical Power' ? '#FF0000' : '#0000FF'"},
              "strokeDash": {"signal": "datum.value == 'Mechanical Power' ? [1, 1] : []"},
              "strokeWidth": {"signal": "datum.value == 'Efficiency (IM)' ? 1.3 : 1.1"},
              "opacity": {"value": 1}}}}}}
      },
      "layer": [
        {
          "data": {"name": "effB"},
          "encoding": {"y": {"field": "v", "type": "quantitative", "scale": {"domain": [0.358, 0.856], "nice": false, "zero": false},
            "axis": {"title": "Efficiency (pu)", "titleColor": "#0072BD", "titlePadding": 6,
              "values": [0.36,0.38,0.4,0.42,0.44,0.46,0.48,0.5,0.52,0.54,0.56,0.58,0.6,0.62,0.64,0.66,0.68,0.7,0.72,0.74,0.76,0.78,0.8,0.82,0.84],
              "labelExpr": "abs(datum.value*10 - round(datum.value*10)) < 0.001 ? format(datum.value, '.1f') : ''",
              "labelColor": "#0072BD", "domainColor": "#0072BD", "tickColor": "#0072BD",
              "tickOpacity": {"condition": {"test": "abs(datum.value*10 - round(datum.value*10)) < 0.001", "value": 1}, "value": 0},
              "grid": true,
              "gridColor": {"condition": {"test": "abs(datum.value*10 - round(datum.value*10)) < 0.001", "value": "#cfe0ee"}, "value": "#e3ebf2"},
              "gridDash": {"condition": {"test": "abs(datum.value*10 - round(datum.value*10)) < 0.001", "value": []}, "value": [2, 2]}}}},
          "layer": [
            {"mark": {"type": "line", "strokeWidth": 1.1}},
            {"transform": [{"filter": "datum.s === 'Efficiency (PMSG)'"}],
              "mark": {"type": "point", "filled": true, "size": 16, "opacity": 1},
              "encoding": {"fill": {"value": "#0000FF"}, "stroke": {"value": "#0000FF"}}},
            {"transform": [{"filter": "datum.s === 'Efficiency (IM)'"}],
              "mark": {"type": "point", "filled": false, "size": 30, "opacity": 1, "strokeWidth": 1.3},
              "encoding": {"fill": {"value": "transparent"}, "stroke": {"value": "#0000FF"}}}
          ]
        },
        {
          "data": {"name": "powB"},
          "encoding": {"y": {"field": "v", "type": "quantitative", "scale": {"domain": [0, 12000], "nice": false, "zero": false},
            "axis": {"orient": "right", "title": "Power (W)", "titleColor": "#D95319", "titlePadding": 3,
              "values": [0, 2000, 4000, 6000, 8000, 10000, 12000], "labelExpr": "datum.value + ''",
              "labelColor": "#D95319", "domainColor": "#D95319", "tickColor": "#D95319", "grid": false}}},
          "layer": [
            {"mark": {"type": "line", "strokeWidth": 1.2, "strokeDash": [1, 1]}}
          ]
        }
      ],
      "resolve": {"scale": {"y": "independent"}}
    }
  ]
}
